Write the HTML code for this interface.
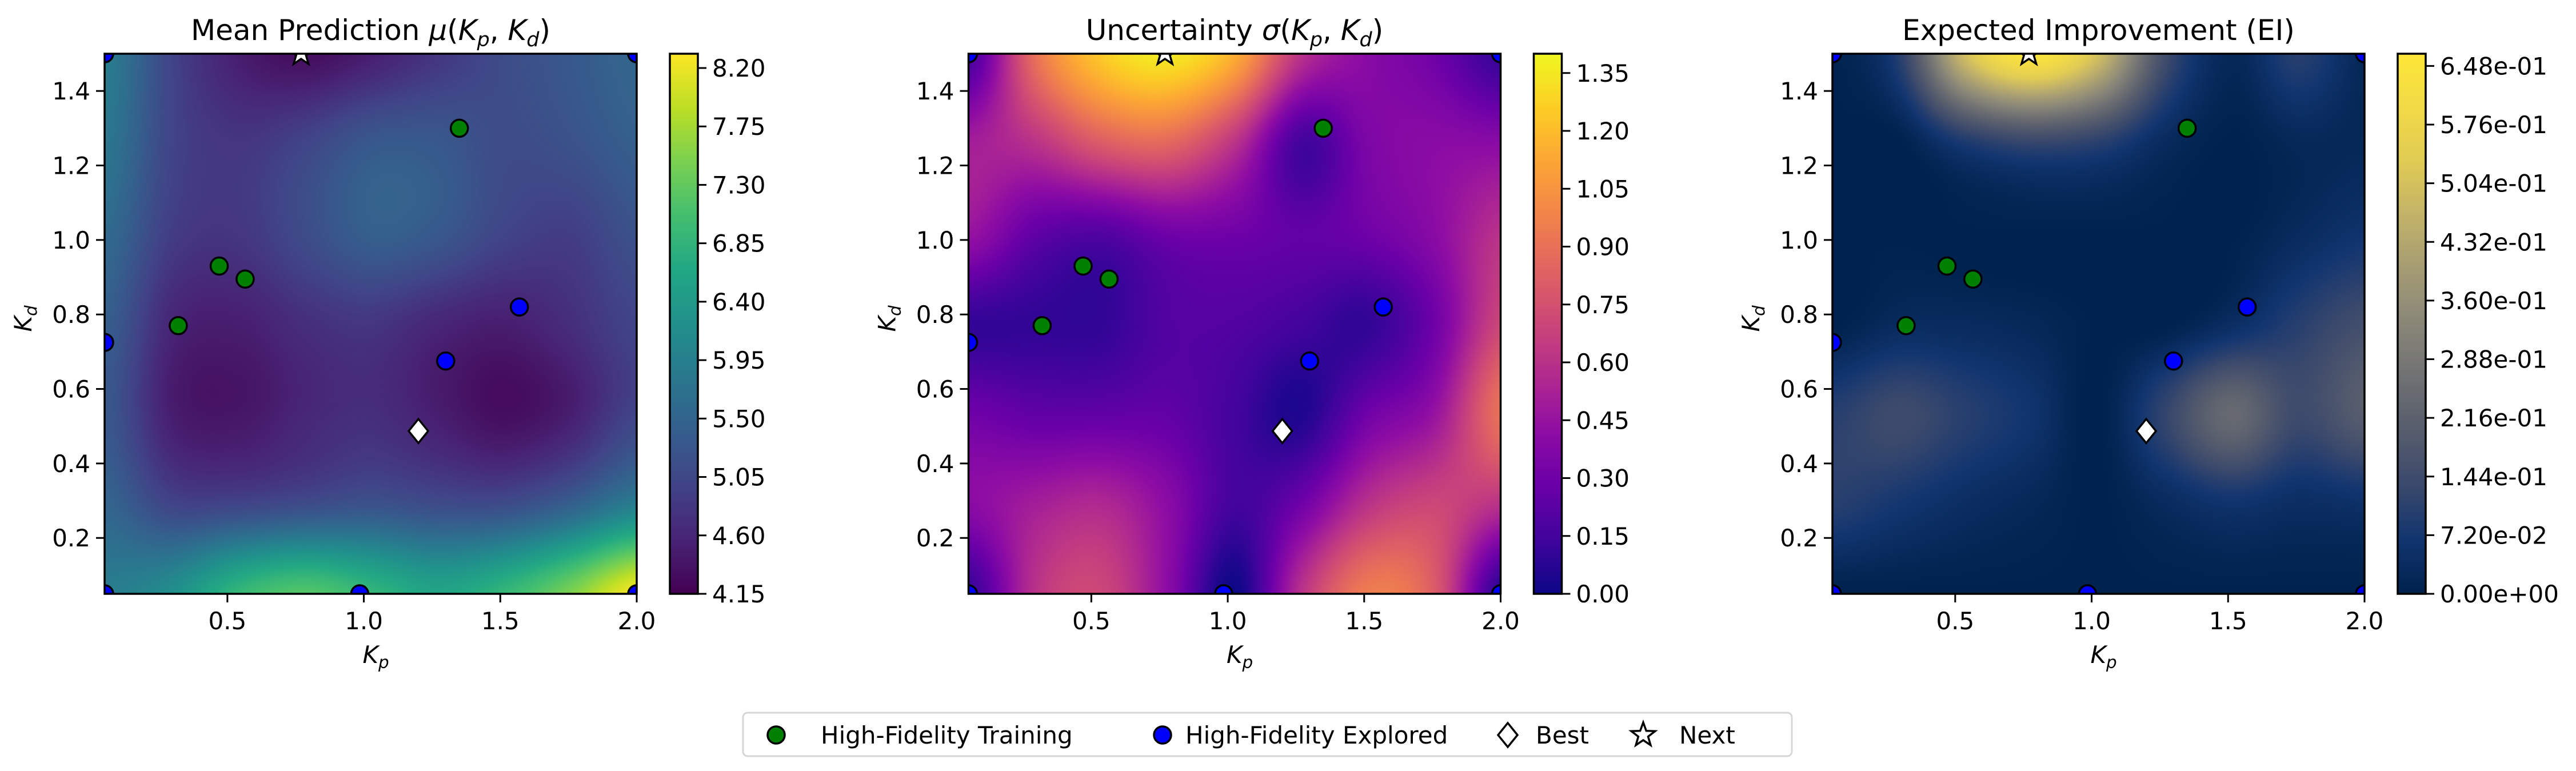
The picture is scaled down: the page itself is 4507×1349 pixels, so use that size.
<!DOCTYPE html>
<html><head><meta charset="utf-8">
<style>
html,body{margin:0;padding:0;background:#fff;}
#root{position:relative;width:4507px;height:1349px;overflow:hidden;background:#fff;}
canvas{position:absolute;}
svg{position:absolute;left:0;top:0;}
text{font-family:"DejaVu Sans","Liberation Sans",sans-serif;fill:#000;}
</style></head>
<body>
<div id="root">
<canvas id="c0"></canvas>
<canvas id="c1"></canvas>
<canvas id="c2"></canvas>
<canvas id="cb0"></canvas>
<canvas id="cb1"></canvas>
<canvas id="cb2"></canvas>
<svg id="svg" width="4507" height="1349" xmlns="http://www.w3.org/2000/svg"></svg>
</div>
<script>
// ---- data ----
const gridX = [0.05,0.29,0.54,0.78,1.03,1.27,1.51,1.76,2.0];
const gridY = [1.5,1.26,1.02,0.78,0.53,0.29,0.05];
const meanGrid = [
 [5.9,5.0,4.5,4.3,4.5,4.8,5.1,5.3,5.5],
 [5.8,5.0,4.8,5.0,5.3,5.3,5.1,5.2,5.4],
 [5.6,4.9,4.8,5.1,5.4,5.3,5.0,4.9,5.2],
 [5.4,4.6,4.5,4.7,4.8,4.6,4.5,4.7,5.0],
 [5.3,4.5,4.4,4.6,4.7,4.5,4.3,4.5,5.0],
 [5.5,5.0,5.0,5.1,5.2,5.1,5.1,5.4,5.9],
 [5.9,6.2,6.9,7.2,6.9,6.6,6.9,7.5,8.3]];
const sigmaGrid = [
 [0.15,0.9,1.25,1.35,1.15,0.6,0.4,0.3,0.1],
 [0.5,0.6,0.8,0.85,0.6,0.15,0.35,0.4,0.4],
 [0.45,0.25,0.2,0.3,0.3,0.25,0.3,0.4,0.6],
 [0.1,0.1,0.1,0.2,0.2,0.15,0.1,0.3,0.7],
 [0.3,0.25,0.25,0.25,0.15,0.05,0.3,0.45,0.9],
 [0.4,0.5,0.55,0.4,0.15,0.3,0.6,0.7,0.6],
 [0.1,0.6,0.7,0.4,0.0,0.6,0.95,0.8,0.05]];
const eiGrid = [
 [0,0.1,0.5,0.65,0.5,0.15,0.02,0.1,0.02],
 [0,0,0.08,0.12,0.1,0.03,0,0.02,0.02],
 [0,0,0,0,0,0,0,0.03,0.06],
 [0,0.03,0.03,0.02,0,0,0.04,0.1,0.15],
 [0.1,0.14,0.1,0.06,0,0.12,0.24,0.14,0.2],
 [0.1,0.07,0.04,0.02,0,0.03,0.06,0.04,0.05],
 [0,0,0,0,0,0,0,0,0]];
const trainX = [0.32,0.47,0.565,1.35];
const trainY = [0.77,0.93,0.895,1.30];
const exploredX = [0.05,2.0,0.05,0.05,0.985,2.0,1.3,1.57];
const exploredY = [1.5,1.5,0.725,0.05,0.05,0.05,0.675,0.82];
const bestX = [1.2], bestY = [0.487];
const nextX = [0.77], nextY = [1.5];
const xTicks = [0.5,1.0,1.5,2.0];
const yTicks = [0.2,0.4,0.6,0.8,1.0,1.2,1.4];
const meanTicks = [4.15,4.60,5.05,5.50,5.95,6.40,6.85,7.30,7.75,8.20];
const sigmaTicks = [0.00,0.15,0.30,0.45,0.60,0.75,0.90,1.05,1.20,1.35];
const eiTicks = [0,0.072,0.144,0.216,0.288,0.36,0.432,0.504,0.576,0.648];
const meanRange = [4.15,8.31];
const sigmaRange = [0,1.40];
const eiRange = [0,0.663];

// ---- style ----
const cmaps = {
 viridis:['#440154','#482475','#414487','#355f8d','#2a788e','#21918c','#22a884','#44bf70','#7ad151','#bddf26','#fde725'],
 plasma:['#0d0887','#41049d','#6a00a8','#8f0da4','#b12a90','#cc4778','#e16462','#f2844b','#fca636','#fcce25','#f0f921'],
 cividis:['#00224e','#123570','#3b496c','#575d6d','#707173','#8a8779','#a59c74','#c3b369','#e1cc55','#f2da48','#fee838']
};
const NS='http://www.w3.org/2000/svg';
const svg=document.getElementById('svg');
const AX_W=931, AX_H=945, AX_T=94;
const panelLeft=[183,1694.5,3206];
const X0=0.05,X1=2.0,Y0=0.05,Y1=1.5;

function hex(h){return [parseInt(h.substr(1,2),16),parseInt(h.substr(3,2),16),parseInt(h.substr(5,2),16)];}
function cmap(name,t){
  const s=cmaps[name]; t=Math.max(0,Math.min(1,t));
  const f=t*(s.length-1), i=Math.min(s.length-2,Math.floor(f)), u=f-i;
  const a=hex(s[i]), b=hex(s[i+1]);
  return [a[0]+(b[0]-a[0])*u,a[1]+(b[1]-a[1])*u,a[2]+(b[2]-a[2])*u];
}
function cr(p0,p1,p2,p3,t){return 0.5*((2*p1)+(-p0+p2)*t+(2*p0-5*p1+4*p2-p3)*t*t+(-p0+3*p1-3*p2+p3)*t*t*t);}
function sample(grid,fx,fy){
  const R=grid.length,C=grid[0].length;
  const ix=Math.floor(fx), iy=Math.floor(fy), tx=fx-ix, ty=fy-iy;
  const g=(r,c)=>grid[Math.max(0,Math.min(R-1,r))][Math.max(0,Math.min(C-1,c))];
  const rows=[];
  for(let k=-1;k<=2;k++) rows.push(cr(g(iy+k,ix-1),g(iy+k,ix),g(iy+k,ix+1),g(iy+k,ix+2),tx));
  return cr(rows[0],rows[1],rows[2],rows[3],ty);
}
function xPix(p,v){return panelLeft[p]+(v-X0)/(X1-X0)*AX_W;}
function yPix(v){return AX_T+AX_H-(v-Y0)/(Y1-Y0)*AX_H;}
function el(tag,attrs,parent){const e=document.createElementNS(NS,tag);for(const k in attrs)e.setAttribute(k,attrs[k]);(parent||svg).appendChild(e);return e;}

function drawHeat(id,p,grid,range,cm){
  const c=document.getElementById(id);
  const W=311,H=315; c.width=W;c.height=H;
  c.style.left=panelLeft[p]+'px';c.style.top=AX_T+'px';c.style.width=AX_W+'px';c.style.height=AX_H+'px';
  const ctx=c.getContext('2d'), img=ctx.createImageData(W,H);
  for(let j=0;j<H;j++)for(let i=0;i<W;i++){
    const xv=X0+(i+0.5)/W*(X1-X0), yv=Y1-(j+0.5)/H*(Y1-Y0);
    const fx=(xv-gridX[0])/(gridX[gridX.length-1]-gridX[0])*(gridX.length-1);
    const fy=(gridY[0]-yv)/(gridY[0]-gridY[gridY.length-1])*(gridY.length-1);
    const v=sample(grid,fx,fy);
    const col=cmap(cm,(v-range[0])/(range[1]-range[0]));
    const o=(j*W+i)*4; img.data[o]=col[0];img.data[o+1]=col[1];img.data[o+2]=col[2];img.data[o+3]=255;
  }
  ctx.putImageData(img,0,0);
}
function drawCbar(id,p,cm){
  const c=document.getElementById(id);
  c.width=1;c.height=300;
  const L=panelLeft[p]+AX_W+58;
  c.style.left=L+'px';c.style.top=AX_T+'px';c.style.width='49px';c.style.height=AX_H+'px';
  const ctx=c.getContext('2d');
  for(let j=0;j<300;j++){const col=cmap(cm,1-(j+0.5)/300);ctx.fillStyle=`rgb(${col[0]|0},${col[1]|0},${col[2]|0})`;ctx.fillRect(0,j,1,1);}
}
drawHeat('c0',0,meanGrid,meanRange,'viridis');
drawHeat('c1',1,sigmaGrid,sigmaRange,'plasma');
drawHeat('c2',2,eiGrid,eiRange,'cividis');
drawCbar('cb0',0,'viridis');drawCbar('cb1',1,'plasma');drawCbar('cb2',2,'cividis');

const defs=el('defs',{});
const titles=[
 [['Mean Prediction ',''],['μ','i'],['(',''],['K','i'],['p','s'],[', ',''],['K','i'],['d','s'],[')','']],
 [['Uncertainty ',''],['σ','i'],['(',''],['K','i'],['p','s'],[', ',''],['K','i'],['d','s'],[')','']],
 [['Expected Improvement (EI)','']]
];
const cbTicks=[meanTicks,sigmaTicks,eiTicks], cbRanges=[meanRange,sigmaRange,eiRange];
const cbFmt=[v=>v.toFixed(2),v=>v.toFixed(2),v=>{let s=v.toExponential(2);return s.replace(/e([+-])(\d)$/,'e$10$2');}];
const panelNames=['mean','uncertainty','ei'];

function richText(parts,attrs,size){
  const t=el('text',attrs);
  let sub=false;
  parts.forEach(([s,st])=>{
    const ts=el('tspan',{},t); ts.textContent=s;
    if(st==='i') ts.setAttribute('font-style','italic');
    if(st==='s'){ts.setAttribute('font-style','italic');ts.setAttribute('font-size',size*0.7);ts.setAttribute('dy',size*0.22);sub=true;}
    else if(sub){ts.setAttribute('dy',-size*0.22);sub=false;}
  });
  return t;
}

for(let p=0;p<3;p++){
  const L=panelLeft[p], nm=panelNames[p];
  const cp=el('clipPath',{id:'clip'+p},defs); el('rect',{x:L,y:AX_T,width:AX_W,height:AX_H},cp);
  const g=el('g',{'clip-path':`url(#clip${p})`});
  
  
  trainX.forEach((x,i)=>{const c=el('circle',{cx:xPix(p,x),cy:yPix(trainY[i]),r:15,fill:'#008000',stroke:'#000','stroke-width':3.5},g);
    
    });
  exploredX.forEach((x,i)=>{const c=el('circle',{cx:xPix(p,x),cy:yPix(exploredY[i]),r:15,fill:'#0000ff',stroke:'#000','stroke-width':3.5},g);
    
    });
  bestX.forEach((x,i)=>{const cx=xPix(p,x),cy=yPix(bestY[i]);
    const d=el('polygon',{points:`${cx},${cy-21} ${cx+17},${cy} ${cx},${cy+21} ${cx-17},${cy}`,fill:'#fff',stroke:'#000','stroke-width':3.5},g);
    
    });
  nextX.forEach((x,i)=>{const cx=xPix(p,x),cy=yPix(nextY[i]);let pts=[];
    for(let k=0;k<10;k++){const a=-Math.PI/2+k*Math.PI/5, r=k%2?9:22;pts.push((cx+r*Math.cos(a))+','+(cy+r*Math.sin(a)));}
    const s=el('polygon',{points:pts.join(' '),fill:'#fff',stroke:'#000','stroke-width':3.5},g);
    
    });
  const fr=el('rect',{x:L,y:AX_T,width:AX_W,height:AX_H,fill:'none',stroke:'#000','stroke-width':3.5});
  
  
  xTicks.forEach(v=>{const x=xPix(p,v);
    el('line',{x1:x,x2:x,y1:AX_T+AX_H,y2:AX_T+AX_H+15,stroke:'#000','stroke-width':3});
    const t=el('text',{x:x,y:AX_T+AX_H+62,'font-size':42,'text-anchor':'middle'});t.textContent=v.toFixed(1);
    
    });
  yTicks.forEach(v=>{const y=yPix(v);
    el('line',{x1:L-15,x2:L,y1:y,y2:y,stroke:'#000','stroke-width':3});
    const t=el('text',{x:L-25,y:y+15,'font-size':42,'text-anchor':'end'});t.textContent=v.toFixed(1);
    
    });
  const xl=richText([['K','i'],['p','s']],{x:L+AX_W/2-14,y:1160,'font-size':42},42);
  
  
  const yl=richText([['K','i'],['d','s']],{transform:`translate(${L-128},${AX_T+AX_H/2+14}) rotate(-90)`,'font-size':42},42);
  
  
  const tt=richText(titles[p],{x:L+AX_W/2,y:70,'font-size':50,'text-anchor':'middle'},50);
  
  
  const CL=L+AX_W+58;
  const cf=el('rect',{x:CL,y:AX_T,width:49,height:AX_H,fill:'none',stroke:'#000','stroke-width':3.5});
  
  
  const rg=cbRanges[p];
  cbTicks[p].forEach(v=>{const y=AX_T+AX_H-(v-rg[0])/(rg[1]-rg[0])*AX_H;
    el('line',{x1:CL+49,x2:CL+64,y1:y,y2:y,stroke:'#000','stroke-width':3});
    const t=el('text',{x:CL+74,y:y+15,'font-size':42});t.textContent=cbFmt[p](v);
    
    });
}

// legend
const lg=el('g',{});


el('rect',{x:1300,y:1247,width:1835,height:76,rx:8,fill:'#fff',stroke:'#d6d6d6','stroke-width':3},lg);
const LY=1286;
el('circle',{cx:1358,cy:LY,r:15,fill:'#008000',stroke:'#000','stroke-width':3.5},lg);
el('circle',{cx:2034,cy:LY,r:15,fill:'#0000ff',stroke:'#000','stroke-width':3.5},lg);
el('polygon',{points:`2638,${LY-21} 2655,${LY} 2638,${LY+21} 2621,${LY}`,fill:'#fff',stroke:'#000','stroke-width':3.5},lg);
{let pts=[];for(let k=0;k<10;k++){const a=-Math.PI/2+k*Math.PI/5,r=k%2?9:22;pts.push((2875+r*Math.cos(a))+','+(LY+r*Math.sin(a)));}
 el('polygon',{points:pts.join(' '),fill:'#fff',stroke:'#000','stroke-width':3.5},lg);}
[['High-Fidelity Training',1436],['High-Fidelity Explored',2074],['Best',2687],['Next',2938]].forEach(([s,x])=>{
  const t=el('text',{x:x,y:LY+15,'font-size':42},lg);t.textContent=s;
  
  });
</script>
</body></html>
